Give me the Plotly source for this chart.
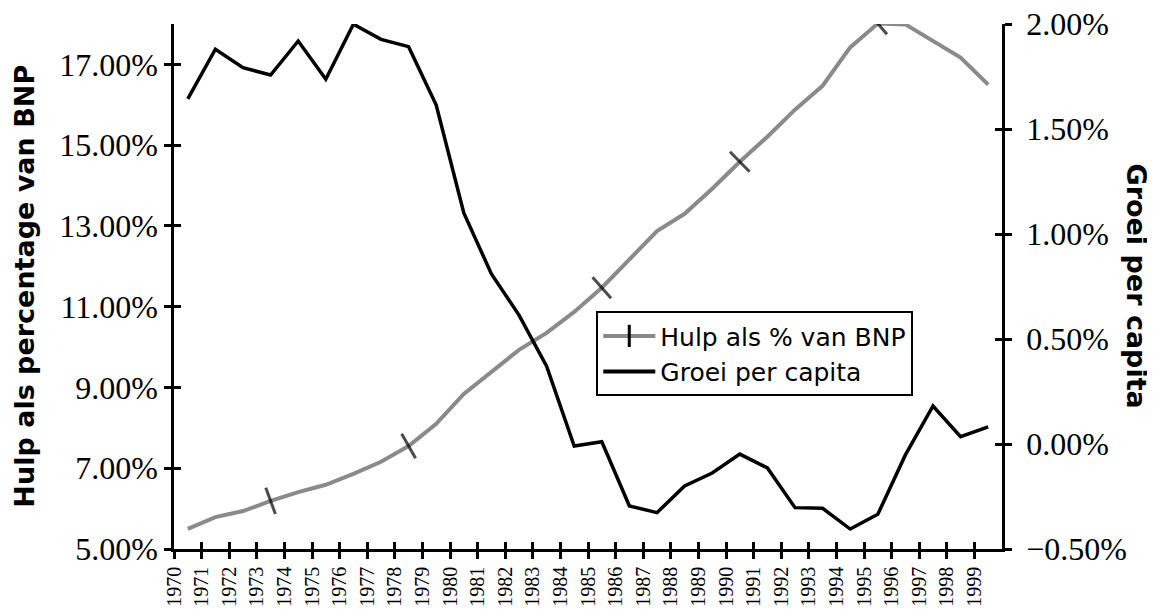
import plotly.graph_objects as go

# values (one point per year, drawn at mid-year)
years = list(range(1970, 2000))
hulp = [5.50, 5.79, 5.94, 6.19, 6.41, 6.59, 6.86, 7.16, 7.55, 8.10,
        8.84, 9.39, 9.93, 10.35, 10.87, 11.47, 12.16, 12.87, 13.30, 13.92,
        14.59, 15.21, 15.88, 16.47, 17.42, 18.01, 17.99, 17.59, 17.17, 16.50]
groei = [1.643, 1.880, 1.792, 1.757, 1.919, 1.737, 1.999, 1.927, 1.892, 1.614,
         1.100, 0.810, 0.614, 0.371, -0.010, 0.011, -0.295, -0.327, -0.200, -0.138,
         -0.048, -0.114, -0.303, -0.306, -0.405, -0.335, -0.052, 0.181, 0.035, 0.082]
left_ticks = [5, 7, 9, 11, 13, 15, 17]
right_ticks = [-0.5, 0.0, 0.5, 1.0, 1.5, 2.0]

x_mid = [y + 0.5 for y in years]
tick_every = [3, 8, 15, 20, 25]  # where the little cross-ticks sit on the grey line
mk_size = [20 if i in tick_every else 0 for i in range(len(years))]

GREY = "#8a8a8a"
serif = "Liberation Serif"

fig = go.Figure()

fig.add_trace(go.Scatter(
    x=x_mid, y=hulp, mode="lines+markers", showlegend=False,
    line=dict(color=GREY, width=4),
    marker=dict(symbol="line-ew", size=mk_size, angleref="previous",
                color="black", line=dict(color="black", width=3)),
))
fig.add_trace(go.Scatter(
    x=x_mid, y=groei, mode="lines", yaxis="y2", showlegend=False,
    line=dict(color="black", width=3.5),
))

# legend-only entries
fig.add_trace(go.Scatter(
    x=[None], y=[None], mode="lines+markers", name="Hulp als % van BNP",
    line=dict(color=GREY, width=4),
    marker=dict(symbol="line-ns", size=16, color="black",
                line=dict(color="black", width=3)),
))
fig.add_trace(go.Scatter(
    x=[None], y=[None], mode="lines", name="Groei per capita",
    line=dict(color="black", width=4),
))

# invisible traces so the "inside" tick axes get drawn (ticks cross the axis lines)
fig.add_trace(go.Scatter(x=[None], y=[None], xaxis="x2", yaxis="y3",
                         showlegend=False, hoverinfo="skip"))
fig.add_trace(go.Scatter(x=[None], y=[None], xaxis="x2", yaxis="y4",
                         showlegend=False, hoverinfo="skip"))

xr = [1970, 2000]
common = dict(showgrid=False, zeroline=False, showline=True, automargin=False,
              linecolor="black", linewidth=2.5, tickcolor="black",
              tickwidth=2.5, ticklen=7, ticklabeloverflow="allow")

# the page body has an 8px margin, so the margins are shifted to compensate
fig.update_layout(
    width=1155, height=610,
    margin=dict(l=166, r=161, t=16, b=69),
    paper_bgcolor="white", plot_bgcolor="white",
    xaxis=dict(range=xr, tickvals=years, ticktext=[str(y) for y in years],
               tickangle=-90, ticks="outside",
               tickfont=dict(family=serif, size=20, color="black"), **common),
    xaxis2=dict(range=xr, tickvals=years + [2000], ticks="inside",
                overlaying="x", anchor="y3", showticklabels=False, **common),
    yaxis=dict(range=[5, 18], tickvals=left_ticks,
               ticktext=[f"{v:.2f}%" for v in left_ticks], ticks="outside",
               tickfont=dict(family=serif, size=32, color="black"), **common),
    yaxis2=dict(range=[-0.5, 2.0], tickvals=right_ticks,
                ticktext=[f"{v:.2f}%".replace("-", "\u2212") for v in right_ticks],
                ticks="outside", side="right", overlaying="y", anchor="x",
                ticklabelstandoff=8,
                tickfont=dict(family=serif, size=32, color="black"), **common),
    yaxis3=dict(range=[5, 18], tickvals=left_ticks, ticks="inside",
                overlaying="y", anchor="x2", showticklabels=False, **common),
    yaxis4=dict(range=[-0.5, 2.0], tickvals=right_ticks, ticks="inside",
                side="right", overlaying="y", anchor="x2",
                showticklabels=False, **common),
    legend=dict(x=0.51, y=0.453, xanchor="left", yanchor="top",
                bgcolor="white", bordercolor="black", borderwidth=2,
                itemwidth=52,
                font=dict(family="DejaVu Sans", size=25, color="black")),
    annotations=[
        dict(text="<b>Hulp als percentage van BNP</b>", textangle=-90,
             xref="paper", yref="paper", x=-0.181, y=0.5,
             xanchor="center", yanchor="middle", showarrow=False,
             font=dict(family="DejaVu Sans", size=27, color="black")),
        dict(text="<b>Groei per capita</b>", textangle=90,
             xref="paper", yref="paper", x=1.163, y=0.5,
             xanchor="center", yanchor="middle", showarrow=False,
             font=dict(family="DejaVu Sans", size=27, color="black")),
    ],
)

fig.write_html("out.html")
